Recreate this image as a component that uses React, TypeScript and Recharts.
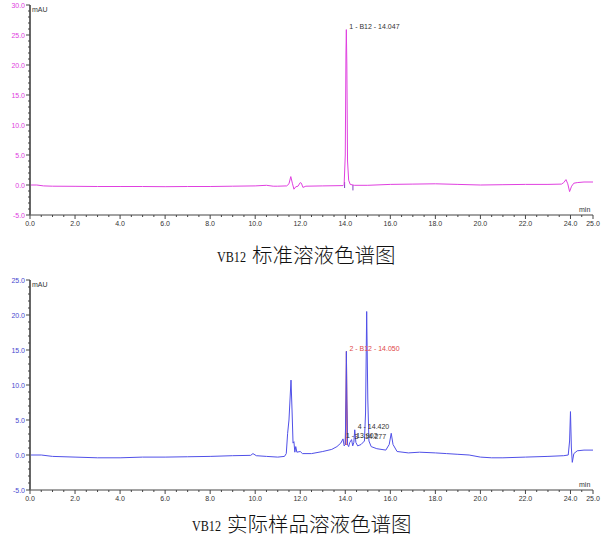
import React from 'react';
import { ComposedChart, Line, Area, XAxis, YAxis, ReferenceDot, ReferenceLine } from 'recharts';

// time (min) / signal (mAU) pairs
const standardTrace: [number, number][] = [
  [0, 0.0], [0.3, 0.0], [0.6, -0.15], [1.0, -0.2], [2.0, -0.22], [3.0, -0.25], [4.0, -0.25],
  [5.0, -0.25], [6.0, -0.28], [7.0, -0.25], [8.0, -0.25], [9.0, -0.2], [10.0, -0.15],
  [10.5, -0.05], [10.8, -0.2], [11.0, -0.2], [11.4, -0.15], [11.5, 0.2], [11.58, 1.4],
  [11.65, 0.3], [11.72, -0.7], [11.8, -0.3], [11.9, -0.2], [12.0, 0.4], [12.05, 0.3],
  [12.12, -0.4], [12.25, -0.2], [13.0, -0.15], [13.9, -0.1], [13.95, 0.1], [14.0, 5.0],
  [14.03, 22.0], [14.047, 25.9], [14.07, 20.0], [14.1, 4.0], [14.15, 0.8], [14.22, 0.1],
  [14.4, -0.05], [15.0, -0.05], [16.0, 0.1], [17.0, 0.15], [18.0, 0.2], [19.0, 0.1],
  [20.0, 0.0], [21.0, 0.05], [22.0, 0.1], [23.0, 0.1], [23.6, 0.15], [23.7, 0.4],
  [23.8, 0.9], [23.88, 0.2], [23.96, -1.1], [24.05, -0.2], [24.15, 0.3], [24.3, 0.4],
  [24.6, 0.5], [25.0, 0.5],
];

const sampleTrace: [number, number][] = [
  [0, 0.0], [0.5, 0.0], [1.0, -0.2], [2.0, -0.3], [3.0, -0.4], [4.0, -0.4], [5.0, -0.3],
  [6.0, -0.3], [7.0, -0.25], [8.0, -0.2], [9.0, -0.1], [9.8, -0.05], [9.9, 0.2], [10.05, -0.1],
  [10.5, -0.2], [11.0, -0.3], [11.3, -0.2], [11.38, 0.2], [11.44, 3.1], [11.5, 5.0],
  [11.59, 10.7], [11.64, 6.0], [11.68, 1.7], [11.72, 1.9], [11.76, 0.4], [11.8, 1.2],
  [11.85, 0.4], [12.0, 0.5], [12.1, 0.2], [12.5, 0.2], [13.0, 0.5], [13.4, 0.8],
  [13.63, 1.2], [13.8, 1.7], [13.9, 2.3], [13.95, 1.3], [14.0, 1.5], [14.03, 8.0],
  [14.05, 14.8], [14.07, 8.0], [14.1, 1.5], [14.15, 1.2], [14.2, 1.8], [14.28, 2.2],
  [14.33, 1.3], [14.38, 1.8], [14.42, 3.6], [14.47, 1.8], [14.55, 1.3], [14.7, 1.5],
  [14.85, 2.0], [14.9, 6.0], [14.95, 20.5], [15.0, 8.0], [15.05, 2.0], [15.15, 1.2],
  [15.4, 0.9], [15.8, 0.7], [15.95, 1.5], [16.04, 3.1], [16.12, 1.5], [16.3, 0.5],
  [16.8, 0.3], [17.3, 0.4], [18.0, 0.3], [18.5, 0.2], [19.0, 0.1], [19.5, 0.0],
  [20.0, -0.3], [20.5, -0.4], [21.0, -0.4], [22.0, -0.3], [23.0, -0.2], [23.7, -0.1],
  [23.9, 0.0], [23.96, 2.0], [24.0, 6.2], [24.04, 1.0], [24.08, -1.05], [24.15, 0.2],
  [24.3, 0.6], [24.6, 0.7], [25.0, 0.7],
];

// integrated B12 peak in the sample: [time, baseline, signal]
const b12Area: [number, number, number][] = [
  [14.0, 1.5, 1.5], [14.03, 1.5, 8.0], [14.05, 1.5, 14.8], [14.07, 1.5, 8.0], [14.1, 1.5, 1.5],
];

// integration markers in the standard: [time, from, to]
const standardMarks: [number, number, number][] = [
  [13.97, -0.5, 0.5],
  [14.34, 0.0, -0.9],
];

const standardPeaks: [number, number, string][] = [[14.047, 25.9, '1 - B12 - 14.047']];
const samplePeaks: [number, number, string, string][] = [
  [13.9, 2.3, '1 - 13.902', '#333'],
  [14.28, 2.2, '3 - 14.277', '#333'],
  [14.42, 3.6, '4 - 14.420', '#333'],
  [14.05, 14.8, '2 - B12 - 14.050', '#e04848'],
];

const xMajor = [0, 2, 4, 6, 8, 10, 12, 14, 16, 18, 20, 22, 24, 25];
const standardYMajor = [-5, 0, 5, 10, 15, 20, 25, 30];
const sampleYMajor = [-5, 0, 5, 10, 15, 20, 25];

const captionTop = ['VB12', '标准溶液色谱图'];
const captionBottom = ['VB12', '实际样品溶液色谱图'];

const withMinors = (majors: number[], step: number) => {
  const out: number[] = [];
  for (let v = majors[0]; v <= majors[majors.length - 1] + 1e-9; v += step) out.push(Math.round(v * 10) / 10);
  return out;
};

const font = "'Liberation Sans', Arial, sans-serif";

const XTick = (props: any) => {
  const { x, y, payload } = props;
  const major = xMajor.includes(payload.value);
  return (
    <g>
      <line x1={x} y1={y} x2={x} y2={y + (major ? 4 : 2)} stroke="#444" />
      {major && (
        <text x={x} y={y + 8} textAnchor="middle" dominantBaseline="central" fontSize={7} fontFamily={font} fill="#333">
          {payload.value.toFixed(1)}
        </text>
      )}
    </g>
  );
};

const makeYTick = (majors: number[], color: string) => (props: any) => {
  const { x, y, payload } = props;
  const major = majors.includes(payload.value);
  return (
    <g>
      <line x1={x - (major ? 4 : 2)} y1={y} x2={x} y2={y} stroke="#444" />
      {major && (
        <text x={x - 5} y={y} textAnchor="end" dominantBaseline="central" fontSize={7} fontFamily={font} fill={color}>
          {payload.value.toFixed(1)}
        </text>
      )}
    </g>
  );
};

const peakLabel = (text: string, color: string) => (p: any) => (
  <text x={p.cx + 3} y={p.cy - 3} dominantBaseline="central" fontSize={7} fontFamily={font} fill={color}>
    {text}
  </text>
);

type ChromProps = {
  trace: [number, number][];
  yMajor: number[];
  yColor: string;
  lineColor: string;
  children?: React.ReactNode;
};

const Chromatogram = ({ trace, yMajor, yColor, lineColor, children }: ChromProps) => {
  const data = trace.map(([t, v]) => ({ t, v }));
  const domain: [number, number] = [yMajor[0], yMajor[yMajor.length - 1]];
  return (
    <div style={{ position: 'relative', width: 606, height: 228 }}>
      <ComposedChart width={606} height={228} margin={{ top: 5, right: 13, left: 0, bottom: 0 }}>
        <XAxis
          dataKey="t" type="number" domain={[0, 25]} ticks={withMinors(xMajor, 0.5)} interval={0}
          height={13} tickSize={0} tickMargin={0} tick={<XTick />} axisLine={{ stroke: '#444' }}
          allowDataOverflow
        />
        <XAxis xAxisId="top" orientation="top" type="number" domain={[0, 25]} height={0} tick={false} tickLine={false} axisLine={{ stroke: '#9a9a9a', strokeWidth: 1.5 }} />
        <YAxis
          type="number" domain={domain} ticks={withMinors(yMajor, 1)} interval={0} width={30}
          tickSize={0} tickMargin={0} tick={makeYTick(yMajor, yColor)} axisLine={{ stroke: '#666', strokeWidth: 2 }}
          allowDataOverflow
        />
        <YAxis yAxisId="right" orientation="right" type="number" domain={domain} width={0} tick={false} tickLine={false} axisLine={{ stroke: '#9a9a9a', strokeWidth: 1.5 }} />
        {children}
        <Line data={data} dataKey="v" type="linear" stroke={lineColor} strokeWidth={1} dot={false} isAnimationActive={false} />
      </ComposedChart>
      <span style={{ position: 'absolute', left: 32, top: 6, fontSize: 7, lineHeight: '8px', fontFamily: font, color: '#333' }}>mAU</span>
      <span style={{ position: 'absolute', left: 579, top: 206, fontSize: 7, lineHeight: '8px', fontFamily: font, color: '#333' }}>min</span>
    </div>
  );
};

const Caption = ({ parts, latinX, cjkX, top }: { parts: string[]; latinX: number; cjkX: number; top: number }) => (
  <svg width={606} height={32} style={{ position: 'absolute', left: 0, top }}>
    <text x={latinX} y={26} fontSize={15} fontFamily="'Liberation Serif', serif" textLength={29} lengthAdjust="spacingAndGlyphs" fill="#111">
      {parts[0]}
    </text>
    <text x={cjkX} y={27} fontSize={20.5} fontWeight={300} fontFamily="'Noto Sans CJK SC', sans-serif" fill="#111">
      {parts[1]}
    </text>
  </svg>
);

export default function App() {
  return (
    <div style={{ position: 'absolute', left: 0, top: 0, width: 606, height: 537, background: '#fff' }}>
      <div style={{ position: 'absolute', left: 0, top: 0 }}>
        <Chromatogram trace={standardTrace} yMajor={standardYMajor} yColor="#e040e0" lineColor="#e040e0">
          {standardMarks.map(([t, a, b], i) => (
            <ReferenceLine key={i} segment={[{ x: t, y: a }, { x: t, y: b }]} stroke="#8040c0" strokeWidth={1} />
          ))}
          {standardPeaks.map(([t, v, text], i) => (
            <ReferenceDot key={i} x={t} y={v} r={0} shape={peakLabel(text, '#333')} ifOverflow="visible" />
          ))}
        </Chromatogram>
      </div>
      <Caption parts={captionTop} latinX={217} cjkX={252} top={236} />
      <div style={{ position: 'absolute', left: 0, top: 275 }}>
        <Chromatogram trace={sampleTrace} yMajor={sampleYMajor} yColor="#4848d0" lineColor="#5050e8">
          <Area
            data={b12Area.map(([t, lo, hi]) => ({ t, r: [lo, hi] }))}
            dataKey="r" type="linear" stroke="#e04848" strokeWidth={1} fill="#f08a8a" fillOpacity={0.9}
            isAnimationActive={false}
          />
          {samplePeaks.map(([t, v, text, color], i) => (
            <ReferenceDot key={i} x={t} y={v} r={0} shape={peakLabel(text, color)} ifOverflow="visible" />
          ))}
        </Chromatogram>
      </div>
      <Caption parts={captionBottom} latinX={192} cjkX={227} top={505} />
    </div>
  );
}
